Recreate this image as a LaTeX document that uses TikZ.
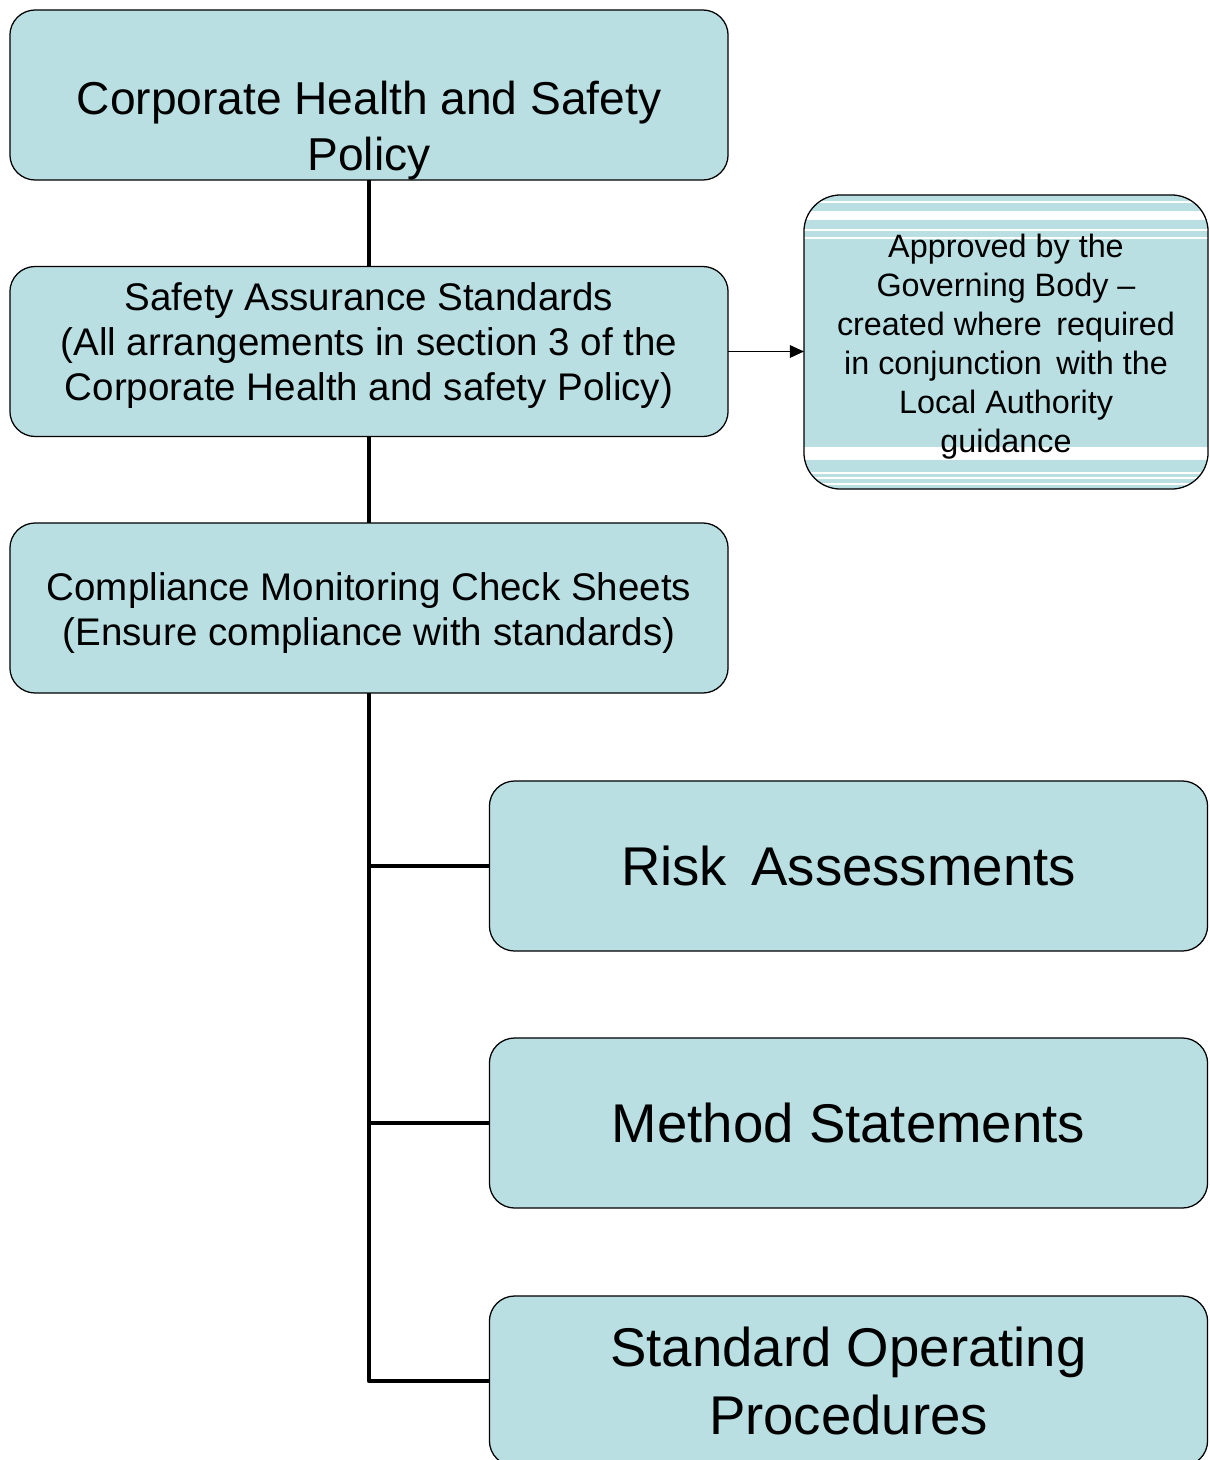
\documentclass[tikz,border=0pt]{standalone}
\usepackage{fontspec}
\setmainfont{Liberation Sans}
\usetikzlibrary{arrows.meta,calc}

\definecolor{boxfill}{HTML}{B9DFE3}

\begin{document}
\begin{tikzpicture}[
  x=0.025cm,
  y=-0.025cm,
  line join=round,
  box/.style={draw=black,line width=0.9pt,fill=boxfill,rounded corners=18pt,
    align=center,inner sep=0pt,outer sep=0pt,
    minimum width=17.95cm,minimum height=4.25cm},
  notebox/.style={box,rounded corners=26pt,
    minimum width=10.1cm,minimum height=7.35cm},
  conn/.style={draw=black,line width=3.4pt},
  arr/.style={draw=black,line width=0.8pt,-{Triangle[length=10pt,width=9pt]}},
  bigtxt/.style={font=\fontsize{32.8}{39}\selectfont},
  midtxt/.style={font=\fontsize{27.4}{32}\selectfont},
  smalltxt/.style={font=\fontsize{23}{27.7}\selectfont},
  hugetxt/.style={font=\fontsize{38.8}{44}\selectfont}
]
  \useasboundingbox (0,0) rectangle (1210,1460);

  % Left column of boxes.
  \node[box,bigtxt] (policy) at (369,95) {\rule{0pt}{2.6cm}Corporate Health and Safety\\[1pt]Policy};
  \node[box,midtxt] (sas) at (369,351.5) {Safety Assurance Standards\\(All arrangements in section 3 of the\\Corporate Health and safety Policy)\rule[-0.5cm]{0pt}{0pt}};
  \node[box,midtxt] (cmcs) at (369,608) {\rule{0pt}{0.95cm}Compliance Monitoring Check Sheets\\(Ensure compliance with standards)};

  % Striped note on the right.
  \node[notebox,smalltxt,path picture={
      \foreach \a/\b in {6/8,16/25,34/36,42/44}
        \fill[white,sharp corners] ($(path picture bounding box.north west)+(0,\a)$) rectangle ($(path picture bounding box.north east)+(0,\b)$);
      \foreach \a/\b in {4/6,10/12,15/17,29/42}
        \fill[white,sharp corners] ($(path picture bounding box.south west)+(0,-\a)$) rectangle ($(path picture bounding box.south east)+(0,-\b)$);
    }] (note) at (1006,342)
    {\rule{0pt}{0.8cm}Approved by the\\Governing Body --\\created where\, required\\in conjunction\, with the\\Local Authority\\guidance};

  % Document boxes.
  \node[box,hugetxt] (risk) at (848.5,866) {Risk\, Assessments};
  \node[box,hugetxt] (method) at (848.5,1123) {Method Statements};
  \node[box,hugetxt] (sop) at (848.5,1381) {Standard Operating\\[4pt]Procedures};

  % Connectors.
  \draw[conn] (policy) -- (sas);
  \draw[conn] (sas) -- (cmcs);
  \draw[conn] (cmcs.south) |- (sop.west);
  \draw[conn] (cmcs.south |- risk.west) -- (risk.west);
  \draw[conn] (cmcs.south |- method.west) -- (method.west);
  \draw[arr] (sas.east) -- (sas.east -| note.west);
\end{tikzpicture}
\end{document}
